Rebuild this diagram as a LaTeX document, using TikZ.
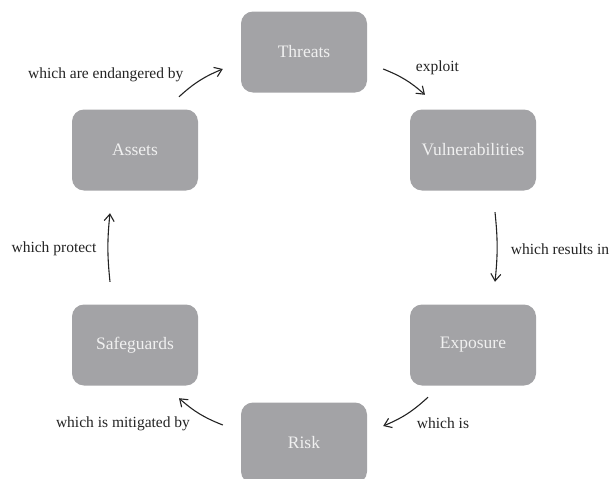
\documentclass[tikz,border=0pt]{standalone}
\usepackage{fontspec}
\setmainfont{Liberation Serif}
\usepackage{tikz}
\usetikzlibrary{arrows.meta}
\definecolor{boxgray}{RGB}{163, 163, 166}
\definecolor{boxtext}{RGB}{240, 240, 240}
\definecolor{ink}{RGB}{35, 35, 35}

\begin{document}
\begin{tikzpicture}[x=1pt, y=1pt,
        riskbox/.style={fill=boxgray, rounded corners=12pt, minimum width=126pt,
            minimum height=81pt, inner sep=0pt, text=boxtext,
            font=\fontsize{17.5}{21}\selectfont},
        lbl/.style={text=ink, inner sep=0pt, font=\fontsize{15.5}{19}\selectfont},
        flow/.style={draw=ink, line width=1.1pt, -{Straight Barb[length=7pt, width=10pt]}}]
        \useasboundingbox (0,0) rectangle (614,-479);

        % The six boxes of the cycle
        \node[riskbox] (threats) at (304,-52) {Threats};
        \node[riskbox] (vuln) at (473,-150) {Vulnerabilities};
        \node[riskbox] (expo) at (473,-345) {Exposure};
        \node[riskbox] (risk) at (304,-443) {Risk};
        \node[riskbox] (safe) at (135,-345) {Safeguards};
        \node[riskbox] (assets) at (135,-150) {Assets};

        % Arrows round the cycle
        \draw[flow] ([shift={(44,12.5)}]assets.north) to[bend left=10] ([shift={(-18,-17)}]threats.west);
        \draw[flow] ([shift={(16,-17)}]threats.east) to[bend left=10] ([shift={(-48,14.5)}]vuln.north);
        \draw[flow] ([shift={(22,-21.5)}]vuln.south) to[bend left=6] ([shift={(22,22.5)}]expo.north);
        \draw[flow] ([shift={(-45,-11.5)}]expo.south) to[bend left=10] ([shift={(16,17)}]risk.east);
        \draw[flow] ([shift={(-18,18)}]risk.west) to[bend left=10] ([shift={(44,-12.5)}]safe.south);
        \draw[flow] ([shift={(-25,22.5)}]safe.north) to[bend left=6] ([shift={(-25,-22.5)}]assets.south);

        % Arrow labels
        \node[lbl] (endangered) at (105.8,-75) {which are endangered by};
        \node[lbl] (exploit) at (437.5,-68) {exploit};
        \node[lbl] (results) at (560,-249) {which results in};
        \node[lbl] (whichis) at (443,-423) {which is};
        \node[lbl] (mitigated) at (123,-424) {which is mitigated by};
        \node[lbl] (protect) at (54,-249) {which protect};
    \end{tikzpicture}
\end{document}
